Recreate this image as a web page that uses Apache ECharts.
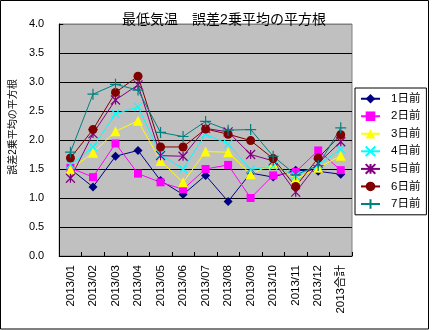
<!DOCTYPE html>
<html>
<head>
<meta charset="utf-8">
<script src="https://cdn.jsdelivr.net/npm/echarts@6/dist/echarts.min.js"></script>
<style>html,body{margin:0;padding:0;background:#fff}#c{width:432px;height:330px}</style>
</head>
<body>
<div id="c"></div>
<script>
var categories = ['2013/01','2013/02','2013/03','2013/04','2013/05','2013/06','2013/07','2013/08','2013/09','2013/10','2013/11','2013/12','2013合計'];
var seriesNames = ['1日前','2日前','3日前','4日前','5日前','6日前','7日前'];
var d1 = [1.50, 1.19, 1.72, 1.82, 1.30, 1.06, 1.39, 0.94, 1.43, 1.36, 1.48, 1.46, 1.41];
var d2 = [1.52, 1.36, 1.94, 1.42, 1.27, 1.15, 1.50, 1.57, 1.00, 1.39, 1.45, 1.82, 1.48];
var d3 = [1.49, 1.78, 2.15, 2.33, 1.64, 1.27, 1.80, 1.79, 1.41, 1.59, 1.33, 1.52, 1.73];
var d4 = [1.57, 1.88, 2.45, 2.57, 1.75, 1.50, 2.10, 1.93, 1.49, 1.55, 1.38, 1.57, 1.84];
var d5 = [1.34, 2.11, 2.69, 2.95, 1.73, 1.72, 2.20, 2.14, 1.75, 1.64, 1.10, 1.60, 1.97];
var d6 = [1.69, 2.18, 2.82, 3.10, 1.88, 1.88, 2.19, 2.10, 1.99, 1.68, 1.20, 1.69, 2.09];
var d7 = [1.79, 2.79, 2.96, 2.86, 2.13, 2.06, 2.32, 2.17, 2.18, 1.72, 1.40, 1.56, 2.21];
var allData = [d1, d2, d3, d4, d5, d6, d7];

var colors = ['#000080','#FF00FF','#FFFF00','#00FFFF','#800080','#800000','#008080'];
var symbols = [
  'diamond',
  'rect',
  'triangle',
  'path://M0,0L10,10M10,0L0,10',
  'path://M0,0L10,10M10,0L0,10M5,0L5,10',
  'circle',
  'path://M5,0L5,10M0,5L10,5'
];
var sizes = [9, 8, 10, 8, 9, 9, 11];

var font = 'Liberation Sans, "Noto Sans CJK JP", sans-serif';

var series = seriesNames.map(function(n, i){
  return {
    name: n,
    type: 'line',
    data: allData[i],
    symbol: symbols[i],
    symbolSize: sizes[i],
    showAllSymbol: true,
    animation: false,
    lineStyle: {color: colors[i], width: 1},
    itemStyle: {color: colors[i], borderColor: colors[i], borderWidth: (i===3||i===4||i===6)?1.2:0}
  };
});

var chart = echarts.init(document.getElementById('c'), null, {renderer:'canvas'});
chart.setOption({
  animation: false,
  backgroundColor: '#ffffff',
  title: {
    text: '最低気温　誤差2乗平均の平方根',
    left: 219, top: 8, textAlign: 'center',
    textStyle: {fontSize: 14, fontWeight: 'normal', color: '#000', fontFamily: font}
  },
  legend: {
    orient: 'vertical',
    left: 355, top: 88,
    padding: [5, 6, 5, 5],
    itemWidth: 19, itemHeight: 12, itemGap: 6,
    backgroundColor: '#fff',
    borderColor: '#000', borderWidth: 1,
    textStyle: {fontSize: 11.5, color: '#000', fontFamily: font, padding: [0,0,0,6]},
    data: seriesNames
  },
  grid: {left: 56, right: 80, top: 24, bottom: 74, show: true, backgroundColor: '#c0c0c0', borderColor: '#808080', borderWidth: 1},
  xAxis: {
    type: 'category',
    data: categories,
    boundaryGap: true,
    axisLine: {lineStyle: {color: '#000', width: 1}},
    axisTick: {show: true, inside: true, length: 4, lineStyle: {color: '#000'}},
    axisLabel: {rotate: 90, fontSize: 11.5, color: '#000', margin: 9, fontFamily: font, interval: 0}
  },
  yAxis: {
    type: 'value',
    min: 0, max: 4, interval: 0.5,
    name: '誤差2乗平均の平方根',
    nameLocation: 'middle',
    nameGap: 38,
    nameRotate: 90,
    nameTextStyle: {fontSize: 10, color: '#000', fontFamily: font, padding: [0,0,0,26]},
    axisLine: {show: true, lineStyle: {color: '#000', width: 1}},
    axisTick: {show: true, inside: true, length: 4, lineStyle: {color: '#000'}},
    axisLabel: {fontSize: 11, color: '#000', margin: 15, fontFamily: font, formatter: function(v){return v.toFixed(1);}},
    splitLine: {show: true, lineStyle: {color: ['#000','#000','#000','#000','#000','#000','#000','#000','#808080'], width: 1}}
  },
  graphic: [{
    type: 'rect',
    shape: {x: 0.5, y: 0.5, width: 428, height: 328.5},
    style: {fill: 'none', stroke: '#000', lineWidth: 1},
    silent: true,
    z: 100
  }],
  series: series
});
</script>
</body>
</html>
